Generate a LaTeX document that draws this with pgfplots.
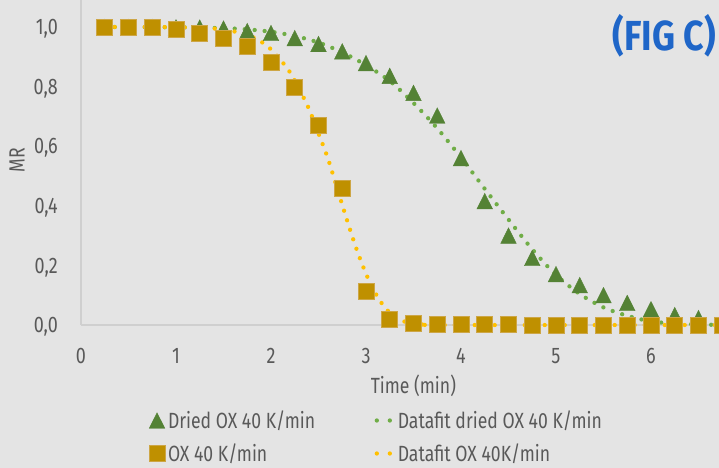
\documentclass[border=0pt]{standalone}
\usepackage{fontspec}
\setmainfont{Fira Sans}[FakeStretch=0.8]
\newfontfamily\titlefont{Fira Sans}[FakeStretch=0.85]
\usepackage{pgfplots}
\pgfplotsset{compat=1.18}

\definecolor{bg}{HTML}{E4E4E4}
\definecolor{txt}{HTML}{595959}
\definecolor{axisgray}{HTML}{CFCFCF}
\definecolor{driedgreen}{HTML}{548235}
\definecolor{fitgreen}{HTML}{70AD47}
\definecolor{oxgold}{HTML}{BF9000}
\definecolor{oxedge}{HTML}{CDA646}
\definecolor{fitgold}{HTML}{FFC000}
\definecolor{figblue}{HTML}{1F66C8}

\pgfplotsset{
  markleg/.style={legend image code/.code={
      \path[draw=none, fill=none] (0bp,-8bp) rectangle (19bp,8bp);
      \draw[##1] plot coordinates {(8bp,0bp)};}},
  dotleg/.style={legend image code/.code={
      \path[draw=none, fill=none] (0bp,-8bp) rectangle (22.5bp,8bp);
      \draw[##1, dash pattern=on 0pt off 13bp] (1.5bp,0bp) -- (14.6bp,0bp);}},
  fitline/.style={line width=4.3bp, line cap=round, dash pattern=on 0pt off 10bp, smooth, tension=0.5},
}

\begin{document}
\begin{tikzpicture}[x=1bp,y=1bp]
\fill[bg] (-81,-143) rectangle (638,325);
\useasboundingbox (-81,-143) rectangle (638,325);
\begin{axis}[
  at={(0,0)}, anchor=south west,
  scale only axis, width=638bp, height=324.8bp,
  xmin=0, xmax=6.716, ymin=0, ymax=1.09,
  clip=false,
  axis lines*=left,
  axis line style={axisgray, line width=1.5bp},
  major tick length=0pt,
  xtick={0,1,2,3,4,5,6},
  ytick={0,0.2,0.4,0.6,0.8,1.0},
  /pgf/number format/assume math mode=true,
  ticklabel style={font=\fontsize{22.5bp}{26bp}\selectfont, text=txt},
  xticklabel style={anchor=north, inner sep=0pt, yshift=-23bp},
  yticklabel style={anchor=east, inner sep=0pt, xshift=-23bp, text depth=0pt,
    /pgf/number format/.cd, fixed, fixed zerofill, precision=1, use comma},
  xlabel={Time (min)},
  xlabel style={at={(axis description cs:0.521,-0.188)}, anchor=center,
    font=\fontsize{22bp}{26bp}\selectfont, text=txt},
  ylabel={MR},
  ylabel style={at={(axis description cs:-0.1003,0.508)}, anchor=center,
    font=\fontsize{22bp}{26bp}\selectfont, text=txt},
  legend columns=2,
  legend style={at={(axis description cs:0.1066,-0.2694)}, anchor=north west,
    draw=none, fill=none, inner sep=0pt, outer sep=0pt,
    font=\fontsize{22bp}{26bp}\selectfont, text=txt,
    cells={anchor=west},
    nodes={inner sep=0pt, text height=16bp, text depth=0pt},
    row sep=17bp,
    /tikz/every even column/.append style={column sep=59.5bp}},
]

% Dried OX, measured
\addplot[only marks, mark=triangle*, mark size=9bp,
  mark options={fill=driedgreen, draw=driedgreen, line width=0.4bp, yshift=-2.6bp, yscale=1.15},
  markleg] coordinates {
  (0.25,1.000) (0.50,1.000) (0.75,1.000) (1.00,0.999) (1.25,0.998)
  (1.50,0.995) (1.75,0.986) (2.00,0.980) (2.25,0.963) (2.50,0.943)
  (2.75,0.918) (3.00,0.879) (3.25,0.836) (3.50,0.779) (3.75,0.703)
  (4.00,0.560) (4.25,0.416) (4.50,0.300) (4.75,0.225) (5.00,0.171)
  (5.25,0.134) (5.50,0.100) (5.75,0.074) (6.00,0.053) (6.25,0.033)
  (6.50,0.023) (6.75,0.015)
};
\addlegendentry{Dried OX 40 K/min}

% Dried OX, fitted model
\addplot[fitgreen, fitline, dotleg] coordinates {
  (0.25,1.000) (1.00,0.999) (1.50,0.996) (1.75,0.992) (2.00,0.984)
  (2.25,0.970) (2.50,0.948) (2.75,0.915) (3.00,0.872) (3.25,0.819)
  (3.50,0.745) (3.75,0.660) (4.00,0.562) (4.25,0.457) (4.50,0.354)
  (4.75,0.254) (5.00,0.168) (5.25,0.104) (5.50,0.059) (5.75,0.031)
  (6.00,0.012) (6.25,0.005) (6.50,0.002) (6.72,0.000)
};
\addlegendentry{Datafit dried OX 40 K/min}

% OX, measured
\addplot[only marks, mark=square*, mark size=8bp,
  mark options={fill=oxgold, draw=oxedge, line width=0.8bp},
  markleg] coordinates {
  (0.25,1.000) (0.50,1.000) (0.75,0.999) (1.00,0.992) (1.25,0.980)
  (1.50,0.963) (1.75,0.935) (2.00,0.880) (2.25,0.799) (2.50,0.670)
  (2.75,0.460) (3.00,0.114) (3.25,0.018) (3.50,0.007) (3.75,0.003)
  (4.00,0.002) (4.25,0.001) (4.50,0.001) (4.75,0.000) (5.00,0.000)
  (5.25,0.000) (5.50,0.000) (5.75,0.000) (6.00,0.000) (6.25,0.000)
  (6.50,0.000) (6.75,0.000)
};
\addlegendentry{OX 40 K/min}

% OX, fitted model
\addplot[fitgold, fitline, dotleg] coordinates {
  (0.25,1.000) (0.80,1.000) (1.20,0.998) (1.40,0.995) (1.60,0.986)
  (1.80,0.967) (1.90,0.950) (2.00,0.925) (2.10,0.890) (2.20,0.848)
  (2.30,0.790) (2.40,0.725) (2.50,0.643) (2.60,0.558) (2.70,0.455)
  (2.80,0.352) (2.90,0.255) (3.00,0.172) (3.10,0.106) (3.20,0.058)
  (3.30,0.028) (3.40,0.012) (3.50,0.005) (3.60,0.002) (3.80,0.000)
  (6.72,0.000)
};
\addlegendentry{Datafit OX 40K/min}
\end{axis}

\node[anchor=east, inner sep=0pt, text=figblue,
  font=\titlefont\bfseries\fontsize{42bp}{48bp}\selectfont] at (635,289.5) {(FIG C)};
\end{tikzpicture}
\end{document}
